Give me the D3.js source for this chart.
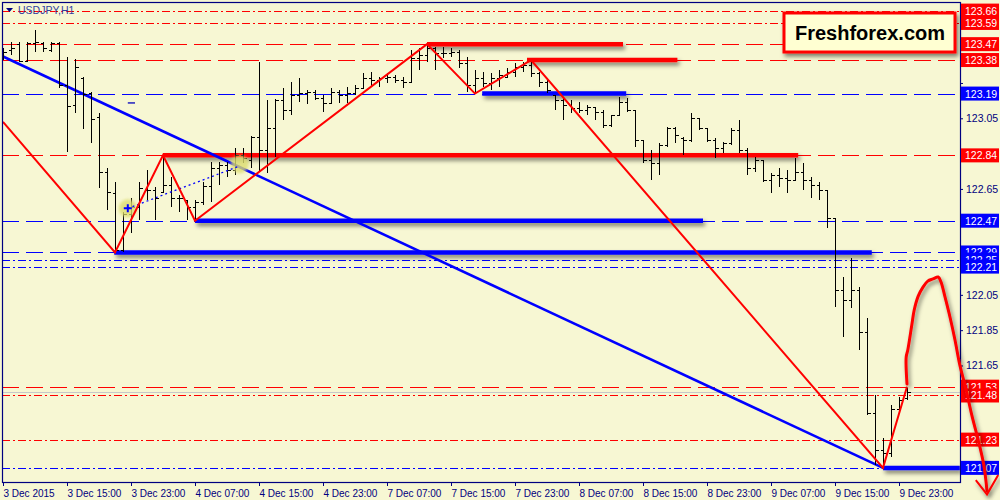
<!DOCTYPE html>
<html><head><meta charset="utf-8">
<script src="https://cdnjs.cloudflare.com/ajax/libs/d3/7.8.5/d3.min.js"></script>
<style>
html,body{margin:0;padding:0;background:#F7F7D3;overflow:hidden;}
svg{display:block;}
text{font-family:"Liberation Sans",Arial,sans-serif;}
</style></head><body>
<svg id="c" width="1000" height="500"></svg>
<script>
// ---------- DATA ----------
const symbol = "USDJPY,H1";
const brand = "Freshforex.com";

const barOpen = [123.408,123.437,123.471,123.374,123.476,123.476,123.437,123.476,123.239,123.125,
123.278,123.193,123.057,122.746,122.627,122.304,122.508,122.548,122.644,122.644,
122.633,122.672,122.599,122.587,122.548,122.576,122.667,122.768,122.785,122.757,
122.842,122.814,122.944,122.870,122.995,123.154,123.097,123.182,123.193,123.199,
123.165,123.137,123.199,123.182,123.193,123.222,123.278,123.267,123.278,123.284,
123.267,123.256,123.391,123.408,123.448,123.420,123.420,123.425,123.363,123.239,
123.278,123.250,123.278,123.284,123.312,123.341,123.352,123.307,123.256,123.182,
123.154,123.125,123.108,123.097,123.114,123.086,123.012,123.069,123.142,123.097,
122.927,122.814,122.797,122.899,122.995,122.938,122.927,123.052,122.995,122.927,
122.882,122.910,122.984,122.870,122.768,122.814,122.700,122.729,122.712,122.700,
122.746,122.700,122.672,122.644,122.485,122.077,122.021,122.077,121.840,121.381,
121.171,121.154,121.403,121.466];
const barHigh = [123.448,123.482,123.482,123.482,123.550,123.482,123.482,123.482,123.397,123.386,
123.284,123.199,123.080,122.768,122.689,122.519,122.599,122.689,122.757,122.661,
122.842,122.717,122.616,122.587,122.587,122.689,122.802,122.802,122.802,122.882,
122.882,122.950,123.369,123.154,123.159,123.222,123.256,123.278,123.210,123.210,
123.182,123.222,123.210,123.227,123.239,123.307,123.312,123.284,123.307,123.295,
123.284,123.437,123.448,123.471,123.454,123.454,123.448,123.437,123.397,123.324,
123.312,123.307,123.324,123.335,123.363,123.369,123.380,123.312,123.278,123.182,
123.171,123.154,123.142,123.125,123.114,123.097,123.069,123.171,123.165,123.097,
122.927,122.870,122.910,123.001,123.001,122.944,123.080,123.052,122.995,122.938,
122.916,122.995,123.040,122.882,122.831,122.814,122.740,122.768,122.757,122.825,
122.797,122.717,122.689,122.644,122.485,122.151,122.259,122.094,121.919,121.483,
121.239,121.426,121.471,121.522];
const barLow = [123.380,123.408,123.369,123.369,123.425,123.425,123.425,123.222,122.859,123.080,
122.989,122.910,122.655,122.531,122.293,122.293,122.400,122.474,122.587,122.474,
122.627,122.548,122.519,122.474,122.474,122.559,122.576,122.672,122.717,122.729,
122.797,122.768,122.746,122.740,122.831,123.040,123.069,123.142,123.131,123.154,
123.086,123.137,123.137,123.137,123.182,123.222,123.227,123.227,123.250,123.250,
123.222,123.256,123.324,123.369,123.324,123.391,123.397,123.335,123.199,123.193,
123.227,123.210,123.227,123.278,123.284,123.312,123.284,123.227,123.193,123.097,
123.040,123.080,123.080,123.069,123.040,122.995,123.001,123.069,123.086,122.887,
122.797,122.700,122.729,122.887,122.910,122.842,122.916,122.984,122.916,122.825,
122.853,122.899,122.853,122.729,122.746,122.689,122.627,122.661,122.627,122.700,
122.644,122.599,122.587,122.429,121.981,121.811,121.976,121.738,121.369,121.086,
121.069,121.132,121.381,121.454];
const barClose = [123.425,123.448,123.374,123.476,123.482,123.448,123.476,123.239,123.120,123.341,
123.188,123.046,122.746,122.633,122.304,122.508,122.548,122.655,122.644,122.599,
122.672,122.599,122.599,122.548,122.576,122.667,122.768,122.785,122.757,122.842,
122.825,122.944,122.870,122.995,123.154,123.097,123.182,123.193,123.199,123.165,
123.137,123.199,123.182,123.193,123.222,123.278,123.267,123.278,123.284,123.267,
123.256,123.391,123.408,123.448,123.420,123.420,123.425,123.363,123.239,123.278,
123.250,123.278,123.295,123.312,123.341,123.352,123.307,123.256,123.210,123.154,
123.125,123.108,123.097,123.114,123.086,123.012,123.069,123.142,123.097,122.927,
122.814,122.797,122.899,122.995,122.955,122.927,123.052,122.995,122.927,122.882,
122.910,122.984,122.870,122.768,122.814,122.700,122.729,122.712,122.700,122.746,
122.700,122.672,122.644,122.485,122.077,122.021,122.077,121.840,121.381,121.171,
121.154,121.403,121.454,121.500];

const timeTickBars = [0,8,16,24,32,40,48,56,64,72,80,88,96,104,112];
const timeTickLabels = ["3 Dec 2015","3 Dec 15:00","3 Dec 23:00","4 Dec 07:00","4 Dec 15:00",
"4 Dec 23:00","7 Dec 07:00","7 Dec 15:00","7 Dec 23:00","8 Dec 07:00","8 Dec 15:00",
"8 Dec 23:00","9 Dec 07:00","9 Dec 15:00","9 Dec 23:00"];
const priceTicks = [121.05,121.25,121.45,121.65,121.85,122.05,122.25,122.45,122.65,122.85,123.05,123.25,123.45,123.65];

// horizontal levels: price, side (r = red, b = blue), line kind
const levelPrices = [123.66,123.59,123.47,123.38,123.19,122.84,122.47,122.29,122.25,122.21,121.53,121.48,121.23,121.07];
const levelSides  = ["r","r","r","r","b","r","b","b","b","b","r","r","r","b"];
const levelKinds  = ["dashdot","dashdot","dash","dash","dash","dash","dash","dash","dashdot","dashdot","dash","dashdot","dashdot","dashdot"];
const lastPrice = 121.50;

// bold level segments [price, fromBar, toBar, side]
const zones = [[123.47,53,77.5,"r"],[123.38,65.5,84.3,"r"],[123.19,59.9,77.9,"b"],
[122.84,20,99.4,"r"],[122.47,24,87.5,"b"],[122.29,13.9,108.6,"b"],[121.07,110,119.6,"b"]];

// zigzag [bar, price]
const zigzag = [[0,123.03],[14,122.29],[20,122.84],[24,122.47],[53,123.47],[59,123.19],[66,123.38],[110,121.07],[113,121.53]];
const trendLine = [[0,123.40],[110,121.07]];
const dottedLink = [[15.6,122.54],[29.6,122.78]];
const highlights = [[15.6,122.54],[29.6,122.79]];
const smallDash = [[15.6,123.137],[16.5,123.137]];
// hand-drawn forecast path [bar, price]
const forecast = [[113,121.545],[112.9,121.698],[113.1,121.738],[113.6,121.879],[113.9,121.964],[114.4,122.043],
[115,122.094],[115.6,122.128],[116.25,122.140],[116.9,122.151],[117.25,122.123],[117.75,122.038],[118.4,121.919],
[119,121.794],[119.6,121.653],[120.4,121.511],[121.1,121.369],[121.9,121.228],[122.6,121.086],[123.0,120.94]];
const arrowHead = [[121.6,121.00],[123.0,120.92],[124.4,121.03]];

// ---------- DRAW ----------
const svg = d3.select("#c");
const L = 2, R = 960, T = 2, B = 482;
const x = d3.scaleLinear().domain([0,119.5]).range([3,959]);
const y = d3.scaleLinear().domain([120.99,123.72]).range([482,0]);
const RED = "#FF0000", BLUE = "#0000FF", NAVY = "#000080";
const col = s => s === "r" ? RED : BLUE;
const py = v => Math.round(y(v)) + 0.5;

const defs = svg.append("defs");
const f = defs.append("filter").attr("id","sh").attr("filterUnits","userSpaceOnUse")
  .attr("x",0).attr("y",0).attr("width",1000).attr("height",500);
f.append("feDropShadow").attr("dx",2).attr("dy",3).attr("stdDeviation",2)
  .attr("flood-color","#000").attr("flood-opacity",0.5);
const gb = defs.append("filter").attr("id","blur").attr("filterUnits","userSpaceOnUse")
  .attr("x",0).attr("y",0).attr("width",1000).attr("height",500);
gb.append("feGaussianBlur").attr("stdDeviation",1.5);
defs.append("clipPath").attr("id","clip").append("rect")
  .attr("x",L).attr("y",T).attr("width",R-L).attr("height",B-T);

svg.append("rect").attr("width",1000).attr("height",500).attr("fill","#F7F7D3");

const plot = svg.append("g").attr("clip-path","url(#clip)");

// level lines
const dashes = {dash:"17,7", dashdot:"8,3,2,3"};
plot.append("g").attr("shape-rendering","crispEdges")
  .selectAll("line").data(levelPrices).join("line")
  .attr("x1",L).attr("x2",R)
  .attr("y1",d=>py(d)).attr("y2",d=>py(d))
  .attr("stroke",(d,i)=>col(levelSides[i])).attr("stroke-width",1)
  .attr("stroke-dasharray",(d,i)=>dashes[levelKinds[i]]);

// last price line
plot.append("line").attr("x1",L).attr("x2",R)
  .attr("y1",py(lastPrice)).attr("y2",py(lastPrice))
  .attr("stroke","#C8C8C8").attr("stroke-width",1).attr("shape-rendering","crispEdges");

// bold zones
plot.selectAll("line.zone").data(zones).join("line").attr("class","zone")
  .attr("x1",d=>x(d[1])).attr("x2",d=>x(d[2]))
  .attr("y1",d=>y(d[0])).attr("y2",d=>y(d[0]))
  .attr("stroke",d=>col(d[3])).attr("stroke-width",4.5).attr("filter","url(#sh)");

// trend line
const line = d3.line().x(d=>x(d[0])).y(d=>y(d[1]));
plot.append("path").attr("d",line(trendLine)).attr("fill","none")
  .attr("stroke",BLUE).attr("stroke-width",2.6);

// OHLC bars
const bars = plot.append("g").attr("stroke","#000").attr("stroke-width",1).attr("shape-rendering","crispEdges");
barOpen.forEach((o,i)=>{
  const cx = Math.round(x(i))+0.5;
  bars.append("line").attr("x1",cx).attr("x2",cx).attr("y1",y(barHigh[i])).attr("y2",y(barLow[i]));
  bars.append("line").attr("x1",cx-3).attr("x2",cx).attr("y1",py(o)).attr("y2",py(o));
  bars.append("line").attr("x1",cx).attr("x2",cx+3.5).attr("y1",py(barClose[i])).attr("y2",py(barClose[i]));
});

// highlights + dotted link
plot.selectAll("circle.hl").data(highlights).join("circle").attr("class","hl")
  .attr("cx",d=>x(d[0])).attr("cy",d=>y(d[1])).attr("r",9)
  .attr("fill","#DCDC70").attr("opacity",0.8).attr("filter","url(#blur)");
plot.append("path").attr("d",line(dottedLink)).attr("fill","none")
  .attr("stroke",BLUE).attr("stroke-width",1.3).attr("stroke-dasharray","2,3");
const mk = highlights[0];
plot.append("path").attr("d",`M${x(mk[0])-4},${y(mk[1])}h8M${x(mk[0])},${y(mk[1])-4}v8`)
  .attr("stroke",BLUE).attr("stroke-width",2);
plot.append("path").attr("d",line(smallDash)).attr("stroke","#2020C0").attr("stroke-width",1.5);

// zigzag
plot.append("path").attr("d",line(zigzag)).attr("fill","none")
  .attr("stroke",RED).attr("stroke-width",2);

// frame
svg.append("rect").attr("x",L+0.5).attr("y",T+0.5).attr("width",R-L).attr("height",B-T)
  .attr("fill","none").attr("stroke",NAVY).attr("stroke-width",1.2);

// right axis (labels hidden where a level label covers them)
const covered = v => levelPrices.some(p => Math.abs(y(p) - y(v)) < 12);
const ax = svg.append("g").attr("transform",`translate(${R},0)`)
  .call(d3.axisRight(y).tickValues(priceTicks).tickSize(3).tickPadding(3)
    .tickFormat(d => covered(d) ? "" : d3.format(".2f")(d)));
ax.select(".domain").remove();
ax.selectAll("line").attr("stroke",NAVY);
ax.selectAll("text").attr("fill",NAVY).style("font-size","10.5px").style("font-family","'Liberation Sans',Arial,sans-serif");

// level labels
const lab = svg.append("g");
levelPrices.forEach((p,i)=>{
  const yy = y(p);
  lab.append("rect").attr("x",R+1).attr("y",yy-7).attr("width",38).attr("height",14).attr("fill",col(levelSides[i]));
  lab.append("text").attr("x",R+5).attr("y",yy+4).attr("fill","#fff").style("font-size","10.5px").text(p.toFixed(2));
});

// bottom axis
const bx = svg.append("g");
timeTickBars.forEach((b,i)=>{
  const xx = Math.round(x(b))+0.5;
  bx.append("line").attr("x1",xx).attr("x2",xx).attr("y1",B).attr("y2",B+4).attr("stroke",NAVY);
  bx.append("text").attr("x",xx).attr("y",497).attr("fill",NAVY).style("font-size","10px").text(timeTickLabels[i]);
});

// forecast hand-drawn curve
const curve = d3.line().x(d=>x(d[0])).y(d=>y(d[1])).curve(d3.curveCatmullRom);
svg.append("path").attr("d",curve(forecast)).attr("fill","none")
  .attr("stroke",RED).attr("stroke-width",3).attr("stroke-linecap","round").attr("filter","url(#sh)");
svg.append("path").attr("d",line(arrowHead)).attr("fill","none")
  .attr("stroke",RED).attr("stroke-width",2).attr("filter","url(#sh)");

// title
svg.append("path").attr("d","M6,8h7l-3.5,4z").attr("fill",NAVY);
svg.append("text").attr("x",18).attr("y",14).attr("fill","#3040A0").style("font-size","10.5px").text(symbol);

// brand box
svg.append("rect").attr("x",784).attr("y",13).attr("width",171).attr("height",39)
  .attr("fill","#FFFFD2").attr("stroke",RED).attr("stroke-width",3).attr("filter","url(#sh)");
svg.append("text").attr("x",870).attr("y",40).attr("text-anchor","middle")
  .style("font-size","20px").style("font-weight","bold").attr("fill","#000").text(brand);
</script>
</body></html>
